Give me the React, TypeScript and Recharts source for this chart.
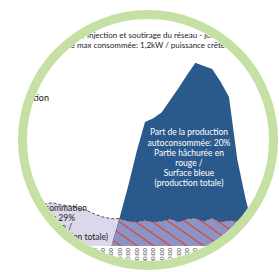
import { ComposedChart, Area, Line, XAxis, YAxis } from "recharts";

const heures = [
  "03:00:00", "03:30:00", "04:00:00", "04:30:00", "05:00:00", "05:30:00", "06:00:00", "06:30:00",
  "07:00:00", "07:30:00", "08:00:00", "08:30:00", "09:00:00", "09:30:00", "10:00:00", "10:30:00",
  "11:00:00", "11:30:00", "12:00:00", "12:30:00", "13:00:00", "13:30:00", "14:00:00", "14:30:00",
  "15:00:00", "15:30:00", "16:00:00", "16:30:00", "17:00:00", "17:30:00", "18:00:00", "18:30:00",
  "19:00:00",
];

// kW
const production = [
  0, 0, 0, 0, 0, 0, 0, 0, 0, 0, 0, 0,
  0.38, 0.79, 1.24, 1.63, 1.68, 1.76, 1.92, 2.08, 2.25, 2.41, 2.37, 2.33, 2.16, 1.96, 1.13, 0.61, 0.18,
  0, 0, 0, 0,
];

const consommation = [
  0.55, 0.56, 0.57, 0.55, 0.57, 0.54, 0.53, 0.5, 0.47, 0.42, 0.38, 0.36, 0.36, 0.33, 0.32, 0.34,
  0.32, 0.33, 0.36, 0.32, 0.36, 0.37, 0.33, 0.37, 0.32, 0.34, 0.33, 0.33, 0.32, 0.34, 0.36, 0.4,
  0.45,
];

const donnees = heures.map((heure, i) => ({
  heure,
  prod: production[i],
  conso: consommation[i],
  auto: Math.min(production[i], consommation[i]),
}));

const POLICE = "Lato, 'Open Sans', sans-serif";

function TickHeure(props: any) {
  const { x, payload } = props;
  return (
    <text
      transform={`translate(${x + 2},248) rotate(-90)`}
      textAnchor="end"
      fontSize={6}
      fill="#333"
      fontFamily={POLICE}
    >
      {payload.value}
    </text>
  );
}

export default function App() {
  return (
    <div style={{ position: "absolute", left: 0, top: 0, width: 279, height: 272, background: "#fff", overflow: "hidden" }}>
      <div style={{ position: "absolute", left: 0, top: 0, width: 279, height: 272, clipPath: "circle(121px at 148px 140px)" }}>
        <svg width={279} height={272} style={{ position: "absolute", left: 0, top: 0 }} fontFamily={POLICE}>
          <text x={84} y={38} textAnchor="end" fontSize={8} fill="#222">Production, consommation,</text>
          <text x={87} y={38} fontSize={8} fill="#222">injection et soutirage du réseau - journée type</text>
          <text x={75} y={48} textAnchor="end" fontSize={8} fill="#222">Puissance</text>
          <text x={77} y={48} fontSize={8} fill="#222">max consommée: 1,2kW / puissance crête PV: 3kWc</text>
          <text x={49} y={101} textAnchor="end" fontSize={9} fill="#111">Production</text>
        </svg>
        <div style={{ position: "absolute", left: 19.2, top: 0 }}>
          <ComposedChart width={268.8} height={272} data={donnees} margin={{ top: 18, right: 0, bottom: 0, left: 0 }}>
            <defs>
              <pattern id="hachures" patternUnits="userSpaceOnUse" width={16} height={9.5} patternTransform="rotate(35)">
                <rect width={16} height={9.5} fill="#8c93c5" />
                <rect y={0} width={16} height={1.1} fill="#e63b2a" />
              </pattern>
            </defs>
            <XAxis dataKey="heure" scale="point" interval={0} axisLine={false} tickLine={false} height={26} tick={<TickHeure />} />
            <YAxis hide domain={[0, 3]} />
            <Area type="linear" dataKey="conso" stroke="none" fill="#dcd7ea" fillOpacity={1} isAnimationActive={false} />
            <Area type="linear" dataKey="prod" stroke="none" fill="#2a5a8c" fillOpacity={1} isAnimationActive={false} />
            <Area type="linear" dataKey="auto" stroke="none" fill="url(#hachures)" fillOpacity={1} isAnimationActive={false} />
            <Line type="linear" dataKey="conso" stroke="#4a4a5a" strokeWidth={1} strokeDasharray="3 2" dot={false} isAnimationActive={false} />
          </ComposedChart>
        </div>
        <svg width={279} height={272} style={{ position: "absolute", left: 0, top: 0 }} fontFamily={POLICE}>
          <g fontSize={8.5} fill="#fff" textAnchor="middle">
            <text x={189} y={135}>Part de la production</text>
            <text x={189} y={146}>autoconsommée: 20%</text>
            <text x={189} y={156}>Partie hâchurée en</text>
            <text x={189} y={166}>rouge /</text>
            <text x={189} y={176}>Surface bleue</text>
            <text x={189} y={186}>(production totale)</text>
          </g>
          <g fontSize={8.5} fill="#222" textAnchor="end">
            <text x={87} y={211}>Part de la consommation</text>
            <text x={75} y={221}>autoconsommée: 29%</text>
            <text x={72} y={230}>Partie hâchurée en rouge /</text>
            <text x={108} y={240}>Surface mauve (consommation totale)</text>
          </g>
        </svg>
      </div>
      <div
        style={{
          position: "absolute",
          left: 18,
          top: 10,
          width: 260,
          height: 260,
          boxSizing: "border-box",
          borderRadius: "50%",
          border: "9px solid #c5e0a3",
        }}
      />
    </div>
  );
}
